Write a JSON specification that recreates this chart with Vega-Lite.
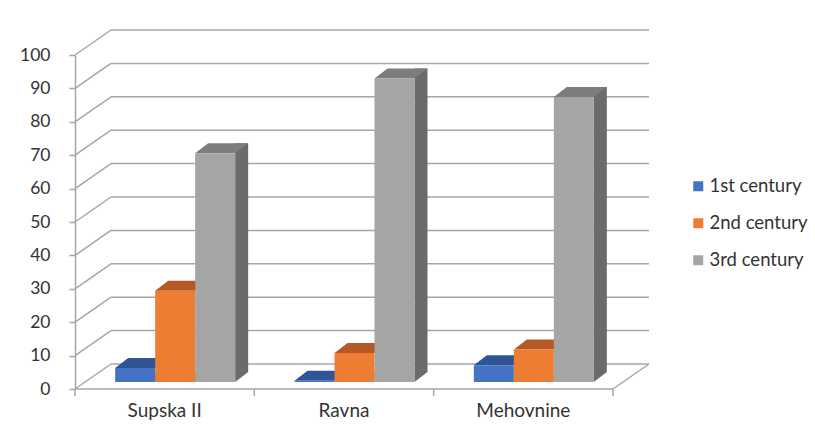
{
  "$schema": "https://vega.github.io/schema/vega-lite/v6.json",
  "autosize": "none",
  "width": 538,
  "height": 334,
  "padding": {"left": 75, "top": 55, "right": 202, "bottom": 46},
  "background": "white",
  "config": {
    "view": {"stroke": null},
    "font": "Lato",
    "axis": {"labelFont": "Lato", "labelColor": "#333333", "domainColor": "#a6a6a6", "tickColor": "#a6a6a6", "domainWidth": 1.5, "tickWidth": 1.5},
    "legend": {"labelFont": "Lato", "labelFontSize": 18.5, "labelColor": "#333333"}
  },
  "datasets": {
    "bars": [
      {"site": "Supska II", "series": "1st century", "value": 4.2},
      {"site": "Supska II", "series": "2nd century", "value": 27.3},
      {"site": "Supska II", "series": "3rd century", "value": 68.5},
      {"site": "Ravna", "series": "1st century", "value": 0.4},
      {"site": "Ravna", "series": "2nd century", "value": 8.7},
      {"site": "Ravna", "series": "3rd century", "value": 90.9},
      {"site": "Mehovnine", "series": "1st century", "value": 5.0},
      {"site": "Mehovnine", "series": "2nd century", "value": 9.7},
      {"site": "Mehovnine", "series": "3rd century", "value": 85.3}
    ],
    "grid": [{"v": 0}, {"v": 10}, {"v": 20}, {"v": 30}, {"v": 40}, {"v": 50}, {"v": 60}, {"v": 70}, {"v": 80}, {"v": 90}, {"v": 100}]
  },
  "resolve": {"scale": {"color": "independent"}},
  "layer": [
    {
      "data": {"name": "grid"},
      "mark": {"type": "rule", "color": "#a6a6a6", "strokeWidth": 1.5, "xOffset": 36, "x2Offset": 36, "yOffset": -25},
      "encoding": {
        "x": {"value": 0},
        "x2": {"value": "width"},
        "y": {"field": "v", "type": "quantitative", "title": null, "scale": {"domain": [0, 100], "nice": false},
              "axis": {"values": [0, 10, 20, 30, 40, 50, 60, 70, 80, 90, 100], "grid": false, "tickSize": 6, "labelPadding": 19, "labelOverlap": false, "labelFontSize": 17.5, "title": null}}
      }
    },
    {
      "data": {"name": "grid"},
      "mark": {"type": "rule", "color": "#a6a6a6", "strokeWidth": 1.5, "x2Offset": 36, "y2Offset": -25},
      "encoding": {
        "x": {"value": 0},
        "x2": {"value": 0},
        "y": {"field": "v", "type": "quantitative", "title": null, "scale": {"domain": [0, 100], "nice": false},
              "axis": {"values": [0, 10, 20, 30, 40, 50, 60, 70, 80, 90, 100], "grid": false, "tickSize": 6, "labelPadding": 19, "labelOverlap": false, "labelFontSize": 17.5, "title": null}},
        "y2": {"field": "v"}
      }
    },
    {
      "data": {"values": [{"edge": "floor"}]},
      "mark": {"type": "rule", "color": "#a6a6a6", "strokeWidth": 1.5, "x2Offset": 36, "y2Offset": -25},
      "encoding": {
        "x": {"value": "width"},
        "x2": {"value": "width"},
        "y": {"value": "height"},
        "y2": {"value": "height"}
      }
    },
    {
      "data": {"values": [{"edge": "front"}]},
      "mark": {"type": "rule", "color": "#a6a6a6", "strokeWidth": 1.5},
      "encoding": {
        "x": {"value": 0},
        "x2": {"value": "width"},
        "y": {"value": "height"}
      }
    },
    {
      "data": {"values": [{"edge": "last tick"}]},
      "mark": {"type": "rule", "color": "#a6a6a6", "strokeWidth": 1.5, "y2Offset": 7},
      "encoding": {
        "x": {"value": "width"},
        "y": {"value": "height"},
        "y2": {"value": "height"}
      }
    },
    {
      "data": {"name": "bars"},
      "transform": [{"filter": "datum.series === '1st century'"}],
      "mark": {"type": "rule", "color": "#a6a6a6", "strokeWidth": 1.5, "xOffset": -40.2, "y2Offset": 7},
      "encoding": {
        "x": {"field": "site", "type": "nominal", "sort": null, "title": null, "bandPosition": 0,
              "scale": {"type": "band", "range": [10.5, 548.5], "paddingInner": 0.331, "paddingOuter": 0.1655},
              "axis": {"labelAngle": 0, "ticks": false, "tickSize": 0, "domain": false, "labelOffset": -10.5, "labelPadding": 12, "labelFontSize": 19, "grid": false, "title": null}},
        "y": {"value": "height"},
        "y2": {"value": "height"}
      }
    },
    {
      "data": {"name": "bars"},
      "transform": [{"filter": "datum.series === '3rd century'"}],
      "mark": {"type": "rule", "color": "#6b6b6b", "strokeWidth": 13, "strokeCap": "butt", "xOffset": 66.5, "yOffset": -17, "y2Offset": -17},
      "encoding": {
        "x": {"field": "site", "type": "nominal", "sort": null, "title": null, "bandPosition": 0.5,
              "axis": {"labelAngle": 0, "ticks": false, "tickSize": 0, "domain": false, "labelOffset": -10.5, "labelPadding": 12, "labelFontSize": 19, "grid": false, "title": null}},
        "y": {"field": "value", "type": "quantitative", "title": null, "scale": {"domain": [0, 100], "nice": false},
              "axis": {"values": [0, 10, 20, 30, 40, 50, 60, 70, 80, 90, 100], "grid": false, "tickSize": 6, "labelPadding": 19, "labelOverlap": false, "labelFontSize": 17.5, "title": null}},
        "y2": {"datum": 0}
      }
    },
    {
      "data": {"name": "bars"},
      "mark": {"type": "point", "shape": "M2,0 L2,-1 L3.3,-1 Z", "size": 400, "filled": true, "opacity": 1, "strokeWidth": 0, "yOffset": -7},
      "encoding": {
        "x": {"field": "site", "type": "nominal", "sort": null, "title": null,
              "axis": {"labelAngle": 0, "ticks": false, "tickSize": 0, "domain": false, "labelOffset": -10.5, "labelPadding": 12, "labelFontSize": 19, "grid": false, "title": null}},
        "xOffset": {"field": "series", "type": "nominal", "sort": null, "scale": {"paddingInner": 0, "paddingOuter": 0}},
        "y": {"datum": 0, "type": "quantitative", "scale": {"domain": [0, 100], "nice": false},
              "axis": {"values": [0, 10, 20, 30, 40, 50, 60, 70, 80, 90, 100], "grid": false, "tickSize": 6, "labelPadding": 19, "labelOverlap": false, "labelFontSize": 17.5, "title": null}},
        "color": {"field": "series", "type": "nominal", "sort": null, "scale": {"domain": ["1st century", "2nd century", "3rd century"], "range": ["#2a4e8c", "#a9531f", "#6b6b6b"]}, "legend": null}
      }
    },
    {
      "data": {"name": "bars"},
      "mark": {"type": "point", "shape": "M-2,0 L2,0 L3.3,-1 L-0.7,-1 Z", "size": 400, "filled": true, "opacity": 1, "strokeWidth": 0, "yOffset": -7},
      "encoding": {
        "x": {"field": "site", "type": "nominal", "sort": null, "title": null,
              "axis": {"labelAngle": 0, "ticks": false, "tickSize": 0, "domain": false, "labelOffset": -10.5, "labelPadding": 12, "labelFontSize": 19, "grid": false, "title": null}},
        "xOffset": {"field": "series", "type": "nominal", "sort": null},
        "y": {"field": "value", "type": "quantitative", "title": null, "scale": {"domain": [0, 100], "nice": false},
              "axis": {"values": [0, 10, 20, 30, 40, 50, 60, 70, 80, 90, 100], "grid": false, "tickSize": 6, "labelPadding": 19, "labelOverlap": false, "labelFontSize": 17.5, "title": null}},
        "color": {"field": "series", "type": "nominal", "sort": null, "scale": {"domain": ["1st century", "2nd century", "3rd century"], "range": ["#2f5597", "#b55a24", "#7d7d7d"]}, "legend": null}
      }
    },
    {
      "data": {"name": "bars"},
      "mark": {"type": "bar", "yOffset": -7, "y2Offset": -7},
      "encoding": {
        "x": {"field": "site", "type": "nominal", "sort": null, "title": null,
              "axis": {"labelAngle": 0, "ticks": false, "tickSize": 0, "domain": false, "labelOffset": -10.5, "labelPadding": 12, "labelFontSize": 19, "grid": false, "title": null}},
        "xOffset": {"field": "series", "type": "nominal", "sort": null},
        "y": {"field": "value", "type": "quantitative", "stack": null, "title": null, "scale": {"domain": [0, 100], "nice": false},
              "axis": {"values": [0, 10, 20, 30, 40, 50, 60, 70, 80, 90, 100], "grid": false, "tickSize": 6, "labelPadding": 19, "labelOverlap": false, "labelFontSize": 17.5, "title": null}},
        "y2": {"datum": 0},
        "color": {"field": "series", "type": "nominal", "sort": null, "title": null,
                  "scale": {"domain": ["1st century", "2nd century", "3rd century"], "range": ["#4472c4", "#ed7d31", "#a5a5a5"]},
                  "legend": {"orient": "none", "legendX": 614, "legendY": 122, "symbolType": "square", "symbolSize": 100, "symbolStrokeWidth": 0, "rowPadding": 18, "labelOffset": 2, "padding": 0}}
      }
    }
  ]
}
